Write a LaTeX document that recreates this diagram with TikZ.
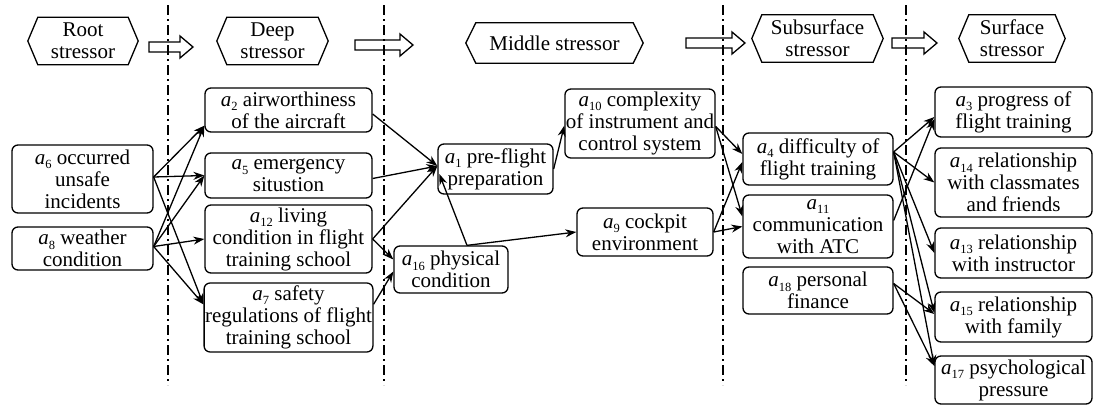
\documentclass[tikz,border=0pt]{standalone}
\usepackage{fontspec}
\setmainfont{Liberation Serif}
\usetikzlibrary{arrows.meta,calc}
\newcommand\fs{\fontsize{21}{22}\selectfont}
\newcommand\sa[1]{\textit{a}\raisebox{-0.45ex}{\fontsize{12.5}{12.5}\selectfont #1}}
\newcommand\hexa[1]{\draw[line width=1.3pt] (#1.west) -- ([xshift=10pt]#1.north west) -- ([xshift=-10pt]#1.north east) -- (#1.east) -- ([xshift=-10pt]#1.south east) -- ([xshift=10pt]#1.south west) -- cycle;}
\newcommand\harrow[3]{\draw[line width=1.3pt] (#1,#3-5) -- (#2-13,#3-5) -- (#2-13,#3-11) -- (#2,#3) -- (#2-13,#3+11) -- (#2-13,#3+5) -- (#1,#3+5) -- cycle;}
\tikzset{
  nbox/.style={draw, rounded corners=6pt, line width=1.3pt, align=center, inner xsep=1pt, inner ysep=0pt, font=\fs},
  hdr/.style={align=center, inner sep=0pt, font=\fs},
  edge/.style={line width=1.3pt, -{Stealth[length=11pt,width=8pt]}},
  sepline/.style={line width=1.5pt, dash pattern=on 10pt off 4pt on 2pt off 4pt},
}
\begin{document}
\begin{tikzpicture}[x=1pt,y=-1pt]
\useasboundingbox (0,0) rectangle (1096,407);
% separators
\draw[sepline] (168,5) -- (168,385);
\draw[sepline] (384,5) -- (384,385);
\draw[sepline] (723,5) -- (723,385);
\draw[sepline] (906,5) -- (906,385);
% headers
\node[hdr, minimum width=110pt, minimum height=47pt] (h1) at (83,41) {Root\\stressor};
\node[hdr, minimum width=111pt, minimum height=47pt] (h2) at (272.5,41) {Deep\\stressor};
\node[hdr, minimum width=177pt, minimum height=40pt] (h3) at (554.5,43) {Middle stressor};
\node[hdr, minimum width=131pt, minimum height=47pt] (h4) at (817.5,38.5) {Subsurface\\stressor};
\node[hdr, minimum width=106pt, minimum height=47pt] (h5) at (1012,38.5) {Surface\\stressor};
\hexa{h1}\hexa{h2}\hexa{h3}\hexa{h4}\hexa{h5}
\harrow{149}{193}{47}
\harrow{355}{413}{45}
\harrow{686}{745}{43}
\harrow{892}{937}{43}
% root
\node[nbox, minimum width=141pt, minimum height=68pt] (a6) at (82.5,179) {\sa{6} occurred\\unsafe\\incidents};
\node[nbox, minimum width=141pt, minimum height=43pt] (a8) at (82.5,248.5) {\sa{8} weather\\condition};
% deep
\node[nbox, minimum width=167pt, minimum height=44pt] (a2) at (288.5,110) {\sa{2} airworthiness\\of the aircraft};
\node[nbox, minimum width=167pt, minimum height=45pt] (a5) at (288.5,175.5) {\sa{5} emergency\\situstion};
\node[nbox, minimum width=167pt, minimum height=68pt] (a12) at (288.5,239) {\sa{12} living\\condition in flight\\training school};
\node[nbox, minimum width=167pt, minimum height=69pt] (a7) at (288.5,317.5) {\sa{7} safety\\regulations of flight\\training school};
% middle
\node[nbox, minimum width=115pt, minimum height=50pt] (a1) at (495.5,169) {\sa{1} pre-flight\\preparation};
\node[nbox, minimum width=114pt, minimum height=47pt] (a16) at (451,269.5) {\sa{16} physical\\condition};
\node[nbox, minimum width=150pt, minimum height=69pt] (a10) at (640,123.5) {\sa{10} complexity\\of instrument and\\control system};
\node[nbox, minimum width=136pt, minimum height=48pt] (a9) at (645,232) {\sa{9} cockpit\\environment};
% subsurface
\node[nbox, minimum width=150pt, minimum height=52pt] (a4) at (818,159) {\sa{4} difficulty of\\flight training};
\node[nbox, minimum width=150pt, minimum height=63pt] (a11) at (818,226.5) {\sa{11}\\communication\\with ATC};
\node[nbox, minimum width=150pt, minimum height=47pt] (a18) at (818,290.5) {\sa{18} personal\\finance};
% surface
\node[nbox, minimum width=157pt, minimum height=50pt] (a3) at (1013.5,112) {\sa{3} progress of\\flight training};
\node[nbox, minimum width=157pt, minimum height=69pt] (a14) at (1013.5,182.5) {\sa{14} relationship\\with classmates\\and friends};
\node[nbox, minimum width=157pt, minimum height=50pt] (a13) at (1013.5,253) {\sa{13} relationship\\with instructor};
\node[nbox, minimum width=157pt, minimum height=50pt] (a15) at (1013.5,317) {\sa{15} relationship\\with family};
\node[nbox, minimum width=157pt, minimum height=48pt] (a17) at (1013.5,380) {\sa{17} psychological\\pressure};
% root -> deep
\draw[edge] ([yshift=2pt]a6.east) -- ([yshift=7pt]a2.south west);
\draw[edge] ([yshift=2pt]a6.east) -- (a5.west);
\draw[edge] ([yshift=2pt]a6.east) -- ([yshift=-22pt]a7.north west);
\draw[edge] ([yshift=2pt]a8.east) -- ([yshift=7pt]a2.south west);
\draw[edge] ([yshift=2pt]a8.east) -- (a5.west);
\draw[edge] ([yshift=2pt]a8.east) -- (a12.west);
\draw[edge] ([yshift=2pt]a8.east) -- ([yshift=-22pt]a7.north west);
% deep -> middle
\draw[edge] ([yshift=-4pt]a2.east) -- ([yshift=3pt]a1.west);
\draw[edge] ([yshift=-3pt]a5.east) -- ([yshift=3pt]a1.west);
\draw[edge] (a12.east) -- ([yshift=3pt]a1.west);
\draw[edge] (a12.east) -- ([yshift=10pt]a16.west);
\draw[edge] ([yshift=-22pt]a7.north east) -- ([yshift=-2pt]a16.west);
\draw[edge] ([xshift=16pt]a16.north) -- ([xshift=2pt,yshift=-5pt]a1.west);
\draw[edge] ([xshift=16pt]a16.north) -- (a9.west);
\draw[edge] (a1.east) -- ([yshift=33pt]a10.south west);
% middle -> subsurface
\draw[edge] ([yshift=-3pt]a10.east) -- ([yshift=5pt]a4.west);
\draw[edge] ([yshift=-3pt]a10.east) -- ([yshift=10pt]a11.west);
\draw[edge] (a9.east) -- ([yshift=-3pt]a4.west);
\draw[edge] (a9.east) -- (a11.west);
% subsurface -> surface
\draw[edge] ([yshift=7pt]a4.east) -- ([yshift=-5pt]a3.west);
\draw[edge] ([yshift=7pt]a4.east) -- (a14.west);
\draw[edge] ([yshift=7pt]a4.east) -- (a13.west);
\draw[edge] ([yshift=7pt]a4.east) -- ([yshift=4pt]a15.west);
\draw[edge] ([yshift=7pt]a4.east) -- ([yshift=14pt]a17.west);
\draw[edge] ([yshift=6pt]a11.east) -- ([yshift=-7pt]a3.west);
\draw[edge] ([yshift=7pt]a18.east) -- ([yshift=3pt]a15.west);
\draw[edge] ([yshift=7pt]a18.east) -- ([yshift=14pt]a17.west);
\end{tikzpicture}
\end{document}
